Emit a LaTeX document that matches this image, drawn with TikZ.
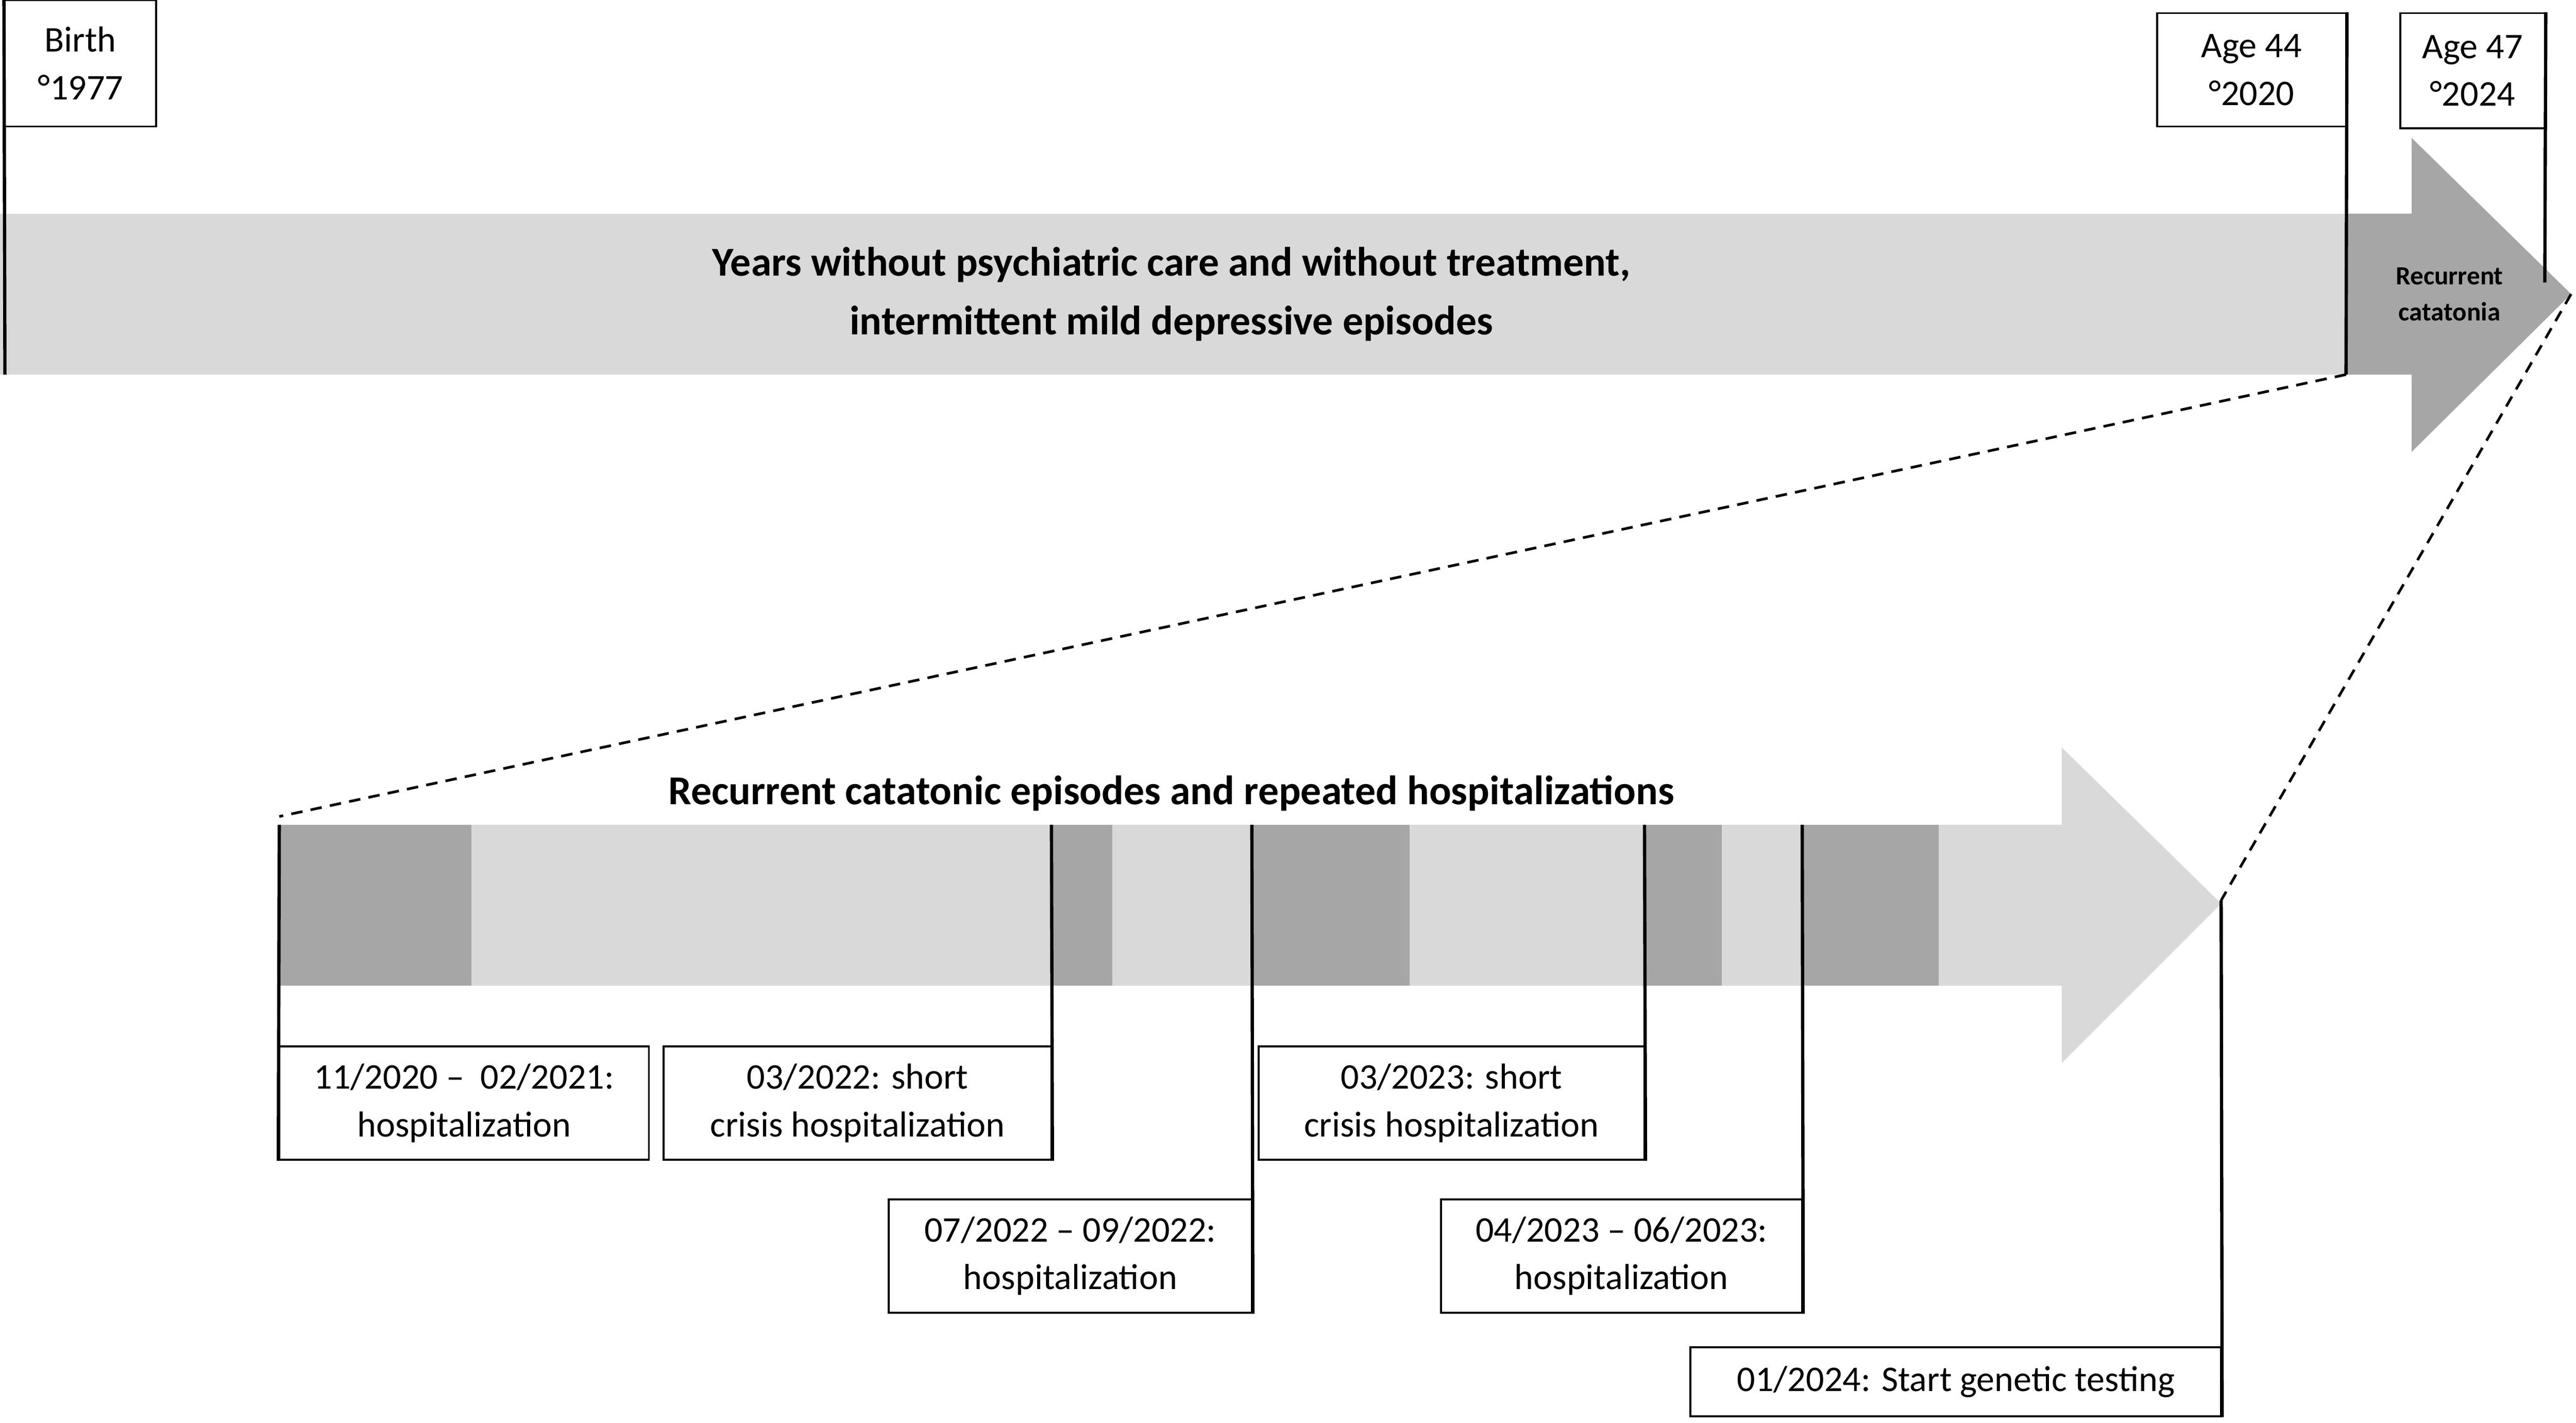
\documentclass[tikz,border=0pt]{standalone}
\usepackage{fontspec}
\setmainfont{Carlito}
\begin{document}
\begin{tikzpicture}[x=1pt,y=-1pt,
  lbox/.style={draw=black,line width=1.2pt,fill=white,inner sep=0pt,align=center,font=\fontsize{22}{29}\selectfont},
  tick/.style={black,line width=2pt},
  dsh/.style={black,line width=1.6pt,dash pattern=on 7pt off 5pt}]
\useasboundingbox (0,0) rectangle (1568,866);
\definecolor{lg}{HTML}{D9D9D9}\definecolor{dg}{HTML}{A6A6A6}
% top bar
\fill[lg] (0,130) rectangle (1428,228);
\fill[dg] (1428,130) -- (1468,130) -- (1468,84) -- (1565,179) -- (1468,275) -- (1468,228) -- (1428,228) -- cycle;
\node[font=\bfseries\fontsize{25}{36}\selectfont,align=center] (t1) at (713,179) {Years without psychiatric care and without treatment,\\intermittent mild depressive episodes};
\node[font=\bfseries\fontsize{16}{22}\selectfont,align=center] (rc) at (1491,179) {Recurrent\\catatonia};
\node[lbox,minimum width=92pt,minimum height=77pt] (b1) at (49,38.5) {Birth\\°1977};
\node[lbox,minimum width=115pt,minimum height=69pt] (b2) at (1370.5,42.5) {Age 44\\°2020};
\node[lbox,minimum width=88pt,minimum height=70pt] (b3) at (1505,43) {Age 47\\°2024};
\coordinate (p1) at (3,228); \coordinate (p2) at (1428,228); \coordinate (p3) at (1549,172);
\coordinate (tip1) at (1565,179);
\draw[tick] (b1.north west) -- (p1);
\draw[tick] (b2.north east) -- (p2);
\draw[tick] (b3.north east) -- (p3);
% bottom arrow
\fill[lg] (170,502) -- (1255,502) -- (1255,455) -- (1352,550) -- (1255,647) -- (1255,600) -- (170,600) -- cycle;
\foreach \a/\b in {170/287,640/677,762/858,1001/1048,1097/1180} \fill[dg] (\a,502) rectangle (\b,600);
\node[font=\bfseries\fontsize{25}{30}\selectfont] (t2) at (713,483) {Recurrent catatonic episodes and repeated hospitalizations};
\coordinate (q0) at (170,497); \coordinate (tip2) at (1352,548);
\draw[dsh] (p2) -- (q0);
\draw[dsh] (tip1) -- (tip2);
\node[lbox,minimum width=225pt,minimum height=69pt] (e1) at (282.5,671.5) {11/2020 –\ \ 02/2021:\\hospitalization};
\node[lbox,minimum width=236pt,minimum height=69pt] (e2) at (522,671.5) {03/2022: short\\crisis hospitalization};
\node[lbox,minimum width=221pt,minimum height=69pt] (e3) at (651.5,764.5) {07/2022 – 09/2022:\\hospitalization};
\node[lbox,minimum width=235pt,minimum height=69pt] (e4) at (883.5,671.5) {03/2023: short\\crisis hospitalization};
\node[lbox,minimum width=220pt,minimum height=69pt] (e5) at (987,764.5) {04/2023 – 06/2023:\\hospitalization};
\node[lbox,minimum width=323pt,minimum height=42pt] (e6) at (1190.5,841) {01/2024: Start genetic testing};
\coordinate (c1) at (170,502); \coordinate (c2) at (640,502); \coordinate (c3) at (762,502);
\coordinate (c4) at (1001,502); \coordinate (c5) at (1097,502);
\draw[tick] (c1) -- (e1.south west);
\draw[tick] (c2) -- (e2.south east);
\draw[tick] (c3) -- (e3.south east);
\draw[tick] (c4) -- (e4.south east);
\draw[tick] (c5) -- (e5.south east);
\draw[tick] (tip2) -- (e6.south east);
\end{tikzpicture}
\end{document}
